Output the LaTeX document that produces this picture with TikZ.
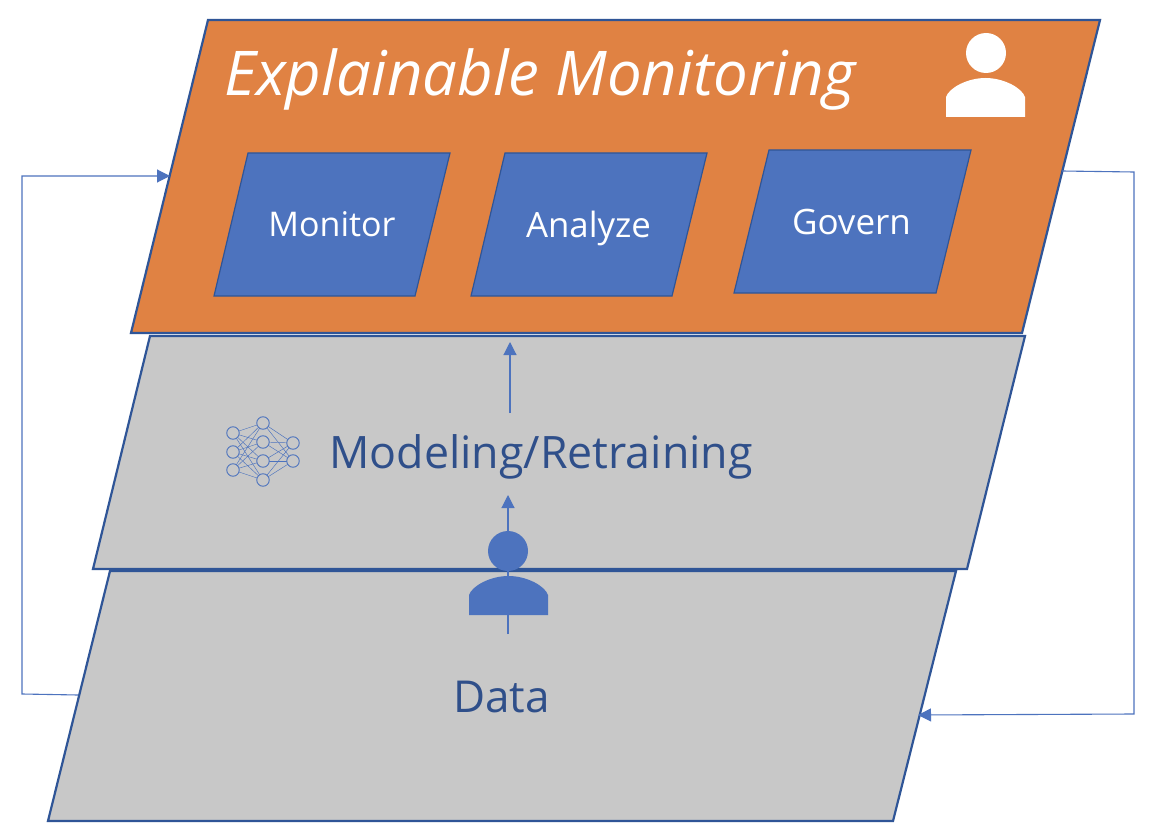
\documentclass[tikz,border=0pt]{standalone}
\usepackage{fontspec}
\usetikzlibrary{arrows.meta}
\setmainfont{Open Sans}
\definecolor{orangelayer}{HTML}{E08243}
\definecolor{bluebox}{HTML}{4D73BE}
\definecolor{greylayer}{HTML}{C8C8C8}
\definecolor{edgeblue}{HTML}{2F5597}
\definecolor{textblue}{HTML}{2F4F8A}
\begin{document}
\begin{tikzpicture}[x=1pt,y=-1pt,
  layer/.style={draw=edgeblue,line width=2.2pt,line join=miter},
  flow/.style={draw=bluebox,line width=1.1pt,-{Triangle[length=13pt,width=13pt]}},
  netnode/.style={circle,draw=bluebox,line width=0.9pt,fill=greylayer,minimum size=12.5pt,inner sep=0pt},
  netedge/.style={draw=bluebox,line width=0.45pt},
  lbl/.style={inner sep=0pt,anchor=center}]
\useasboundingbox (0,0) rectangle (1154,837);
\fill[white] (0,0) rectangle (1154,837);
% layers
\draw[layer,fill=greylayer] (110,571)--(956,571)--(893,821)--(48,821)--cycle;
\draw[layer,fill=greylayer] (150,336)--(1025,336)--(967,569)--(93,569)--cycle;
\draw[layer,fill=orangelayer] (208,20)--(1100,20)--(1022,333)--(131,333)--cycle;
% inner boxes
\draw[layer,line width=1.2pt,fill=bluebox] (248,153)--(450,153)--(415,296)--(214,296)--cycle;
\draw[layer,line width=1.2pt,fill=bluebox] (505,153)--(707,153)--(672,296)--(471,296)--cycle;
\draw[layer,line width=1.2pt,fill=bluebox] (769,150)--(971,150)--(936,293)--(734,293)--cycle;
% labels
\node[lbl,text=white] (title) at (540,79) {\fontsize{61.7}{62}\selectfont\itshape Explainable Monitoring};
\node[lbl,text=white] (monitor) at (332,224) {\fontsize{34}{34}\selectfont Monitor};
\node[lbl,text=white] (analyze) at (588.5,228) {\fontsize{34.8}{35}\selectfont Analyze};
\node[lbl,text=white] (govern) at (851.5,222) {\fontsize{35}{35}\selectfont Govern};
\node[lbl,text=textblue] (modeling) at (541,457) {\fontsize{44.7}{45}\selectfont Modeling/Retraining};
\node[lbl,text=textblue] (data) at (501.5,697) {\fontsize{44}{44}\selectfont Data};
% connector anchors
\coordinate (lstart) at (78,695);
\coordinate (lc1) at (22,694);
\coordinate (lc2) at (22,176);
\coordinate (lend) at (170,176);
\coordinate (rstart) at (1062,171);
\coordinate (rc1) at (1134,172);
\coordinate (rc2) at (1134,714);
\coordinate (rend) at (918,715);
\coordinate (mstart) at (510,413);
\coordinate (mend) at (510,342);
\coordinate (pstart) at (508,634);
\coordinate (pend) at (508,495);
\draw[flow] (lstart)--(lc1)--(lc2)--(lend);
\draw[flow] (rstart)--(rc1)--(rc2)--(rend);
\draw[flow] (mstart)--(mend);
\draw[flow] (pstart)--(pend);
% person on layers
\fill[bluebox] (508,551) circle (20);
\fill[bluebox] (469,615)--(469,595) .. controls (472,586) and (490,576) .. (508.5,576) .. controls (527,576) and (545,586) .. (548,595)--(548,615)--cycle;
% person on top
\fill[white] (986,53) circle (20);
\fill[white] (946,117)--(946,97) .. controls (949,88) and (967,78) .. (985.5,78) .. controls (1004,78) and (1022,88) .. (1025,97)--(1025,117)--cycle;
% neural net
\foreach \n/\x/\y in {a1/233/433,a2/233/452,a3/233/470,b1/263/423,b2/263/442,b3/263/461,b4/263/480,c1/293/443,c2/293/461}
  \coordinate (p\n) at (\x,\y);
\foreach \u in {a1,a2,a3}\foreach \v in {b1,b2,b3,b4}\draw[netedge] (p\u)--(p\v);
\foreach \u in {b1,b2,b3,b4}\foreach \v in {c1,c2}\draw[netedge] (p\u)--(p\v);
\foreach \n in {a1,a2,a3,b1,b2,b3,b4,c1,c2}\node[netnode] (n\n) at (p\n) {};
\end{tikzpicture}
\end{document}
